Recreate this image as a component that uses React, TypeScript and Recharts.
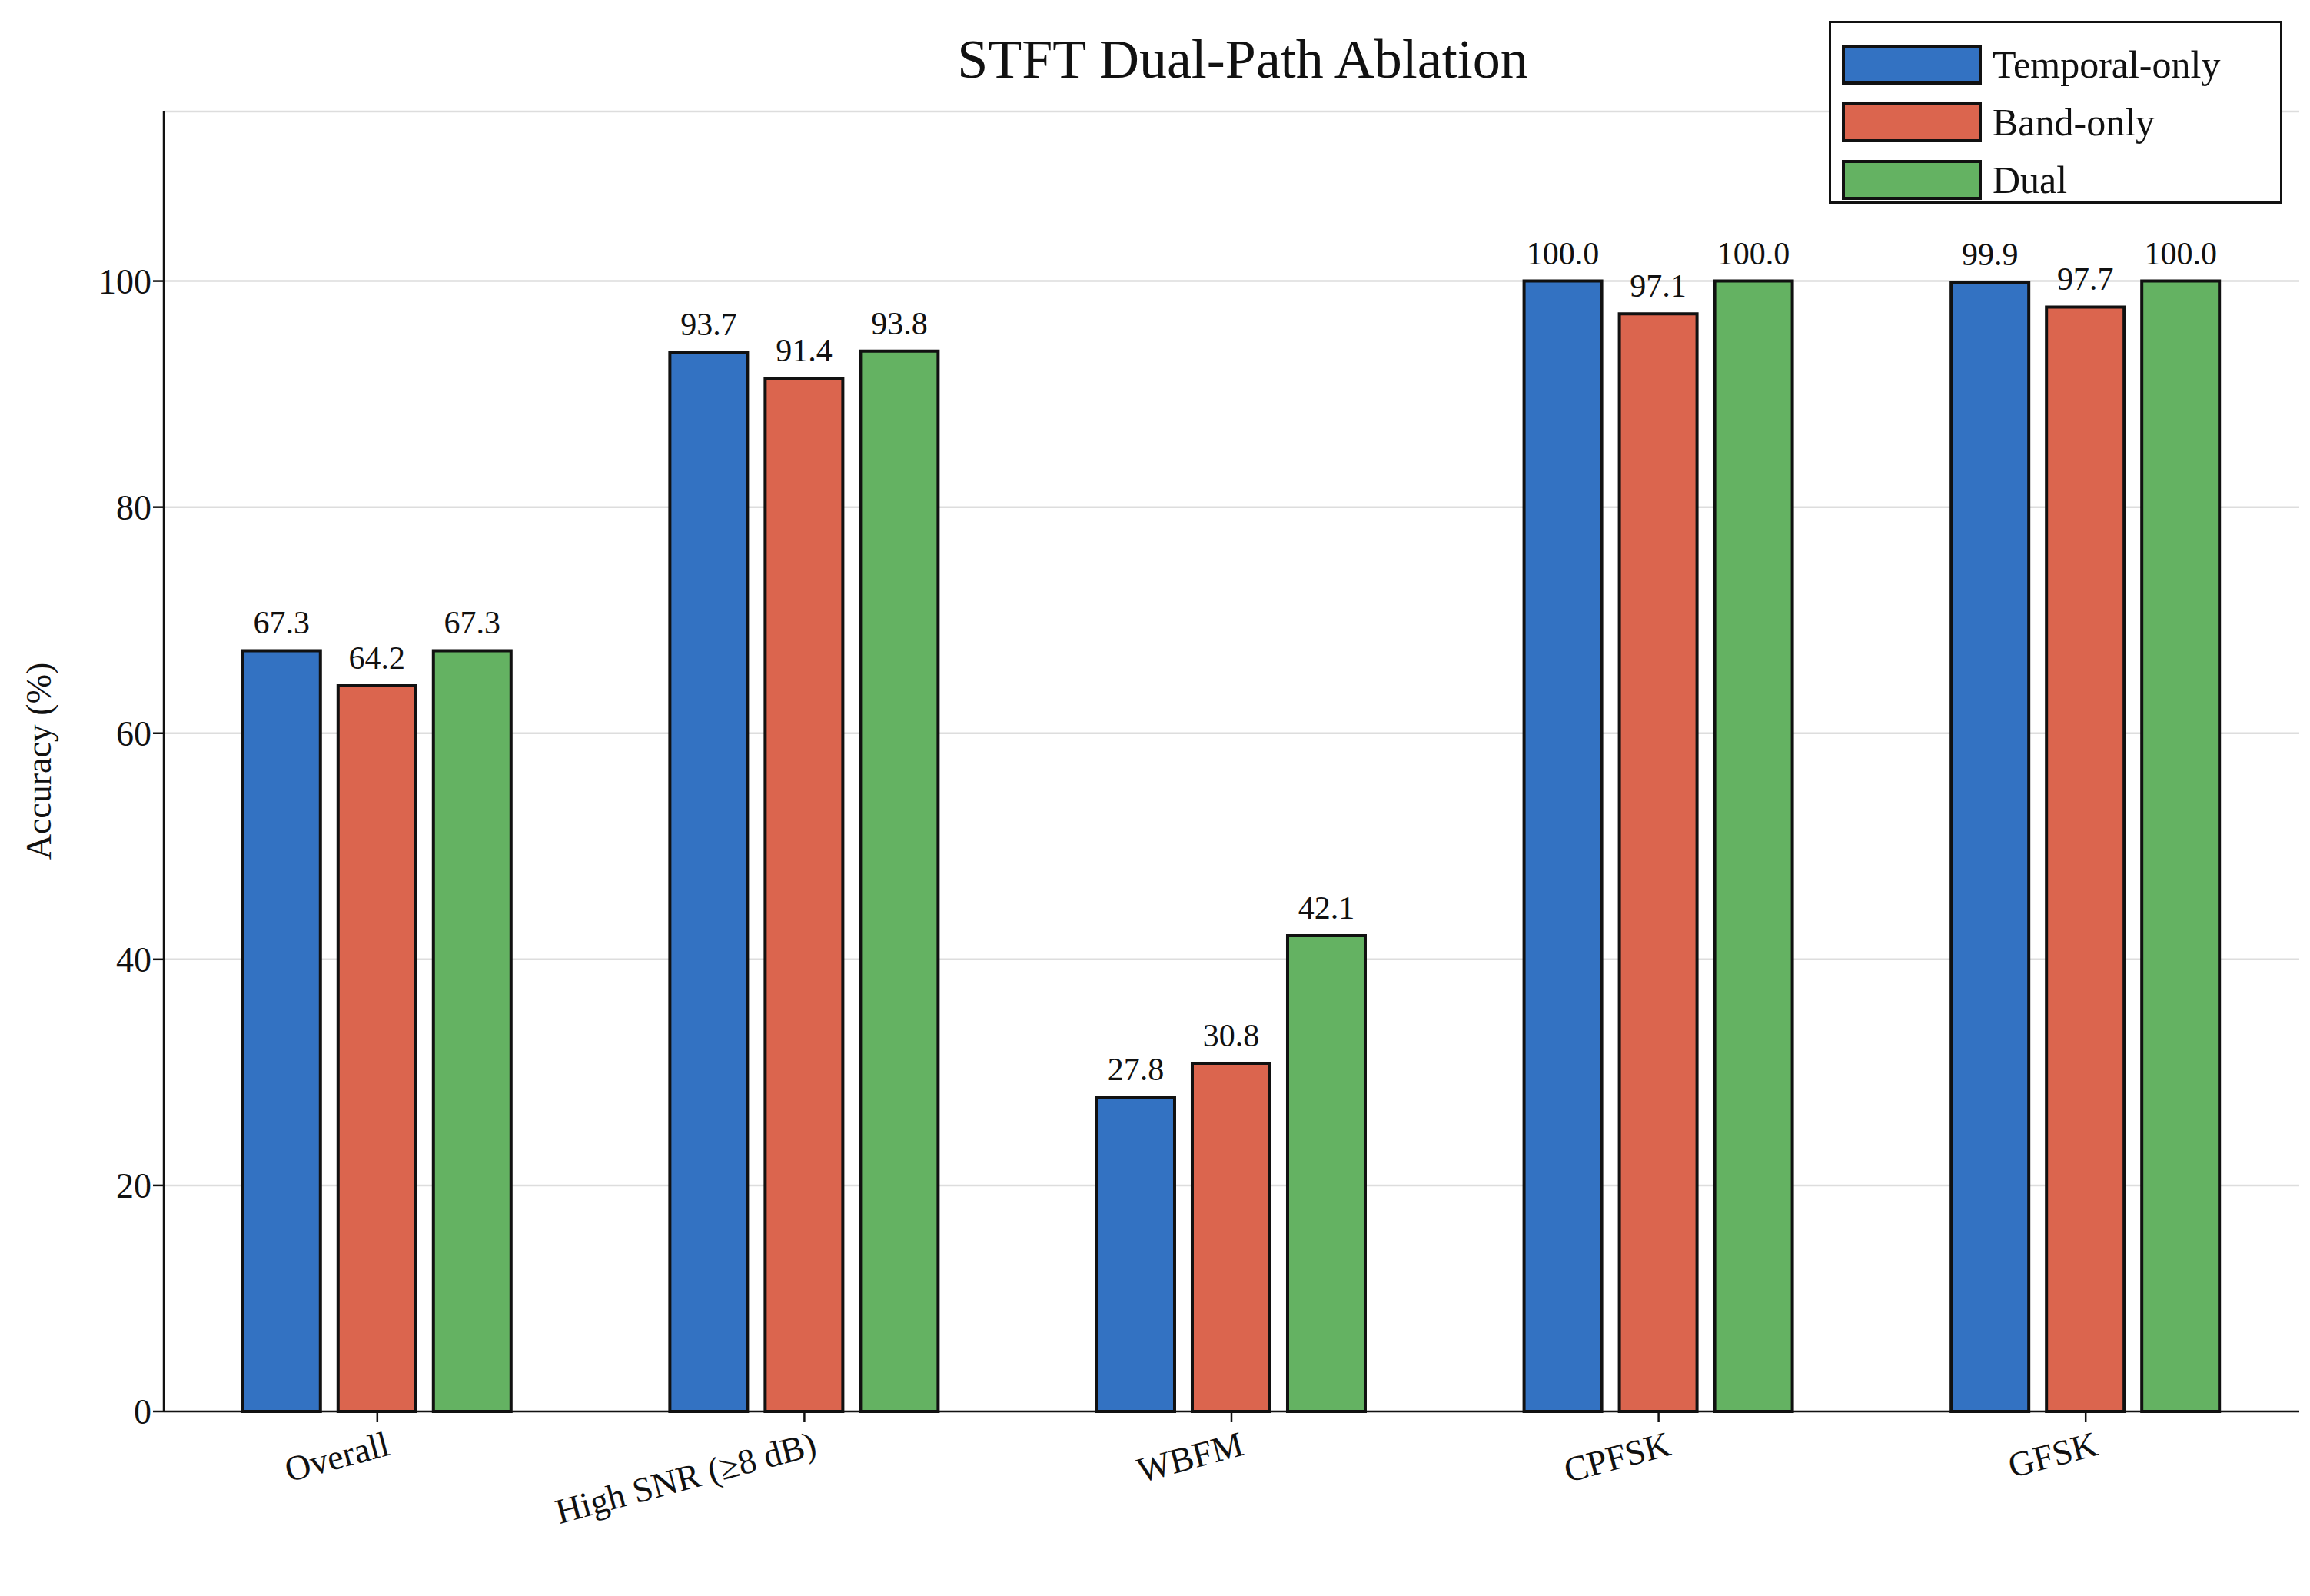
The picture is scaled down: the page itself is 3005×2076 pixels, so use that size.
import React from "react"
import { BarChart, Bar, XAxis, YAxis, CartesianGrid, LabelList } from "recharts"

const categories = ["Overall", "High SNR (\u22658 dB)", "WBFM", "CPFSK", "GFSK"]
const temporalOnly = [67.3, 93.7, 27.8, 100.0, 99.9]
const bandOnly = [64.2, 91.4, 30.8, 97.1, 97.7]
const dual = [67.3, 93.8, 42.1, 100.0, 100.0]
const yTicks = [0, 20, 40, 60, 80, 100]

const series = [
    { key: "temporal", name: "Temporal-only", color: "#3372C2", values: temporalOnly },
    { key: "band", name: "Band-only", color: "#DB654E", values: bandOnly },
    { key: "dual", name: "Dual", color: "#64B262", values: dual },
]

const data = categories.map((c, i) => ({
    cat: c,
    temporal: temporalOnly[i],
    band: bandOnly[i],
    dual: dual[i],
}))

const FONT = "'Liberation Serif', 'DejaVu Serif', serif"

function XTick({ x, y, payload }: any) {
    return (
        <text
            x={x + 18}
            y={y + 40}
            textAnchor="end"
            fontSize={46}
            fontFamily={FONT}
            fill="#111"
            transform={`rotate(-15, ${x + 18}, ${y + 40})`}
        >
            {payload.value}
        </text>
    )
}

export default function App() {
    return (
        <div style={{ position: "absolute", left: 0, top: 0, width: 3005, height: 2076, background: "#fff", fontFamily: FONT }}>
            <div style={{ position: "absolute", left: 0, width: 3233, top: 36, textAlign: "center", fontSize: 72, color: "#111" }}>
                STFT Dual-Path Ablation
            </div>
            <div
                style={{
                    position: "absolute",
                    left: 50,
                    top: 990,
                    transform: "translate(-50%, -50%) rotate(-90deg)",
                    fontSize: 46,
                    whiteSpace: "nowrap",
                    color: "#111",
                }}
            >
                Accuracy (%)
            </div>
            <BarChart
                width={3005}
                height={2076}
                data={data}
                margin={{ top: 145, right: 14, bottom: 0, left: 0 }}
                barCategoryGap="18.5%"
                barGap={23}
            >
                <CartesianGrid horizontal vertical={false} stroke="#dddddd" strokeWidth={2.5} />
                <XAxis
                    dataKey="cat"
                    height={240}
                    tick={<XTick />}
                    tickSize={14}
                    axisLine={{ stroke: "#111", strokeWidth: 2.5 }}
                    tickLine={{ stroke: "#111", strokeWidth: 2.5 }}
                    interval={0}
                />
                <YAxis
                    width={213}
                    domain={[0, 115]}
                    ticks={yTicks}
                    tickSize={14}
                    tick={{ fontSize: 46, fontFamily: FONT, fill: "#111" }}
                    axisLine={{ stroke: "#111", strokeWidth: 2.5 }}
                    tickLine={{ stroke: "#111", strokeWidth: 2.5 }}
                />
                {series.map((s) => (
                    <Bar key={s.key} dataKey={s.key} fill={s.color} stroke="#111" strokeWidth={4} isAnimationActive={false}>
                        <LabelList
                            dataKey={s.key}
                            position="top"
                            offset={22}
                            formatter={(v: any) => Number(v).toFixed(1)}
                            style={{ fontSize: 42, fontFamily: FONT, fill: "#111" }}
                        />
                    </Bar>
                ))}
            </BarChart>
            <div
                style={{
                    position: "absolute",
                    left: 2379,
                    top: 27,
                    width: 590,
                    height: 238,
                    border: "3px solid #111",
                    background: "#fff",
                    boxSizing: "border-box",
                    padding: "16px 14px",
                }}
            >
                {series.map((s) => (
                    <div key={s.key} style={{ display: "flex", alignItems: "center", height: 75, fontSize: 50, color: "#111" }}>
                        <div style={{ width: 182, height: 52, background: s.color, border: "4px solid #111", boxSizing: "border-box", marginRight: 14 }} />
                        <span>{s.name}</span>
                    </div>
                ))}
            </div>
        </div>
    )
}
